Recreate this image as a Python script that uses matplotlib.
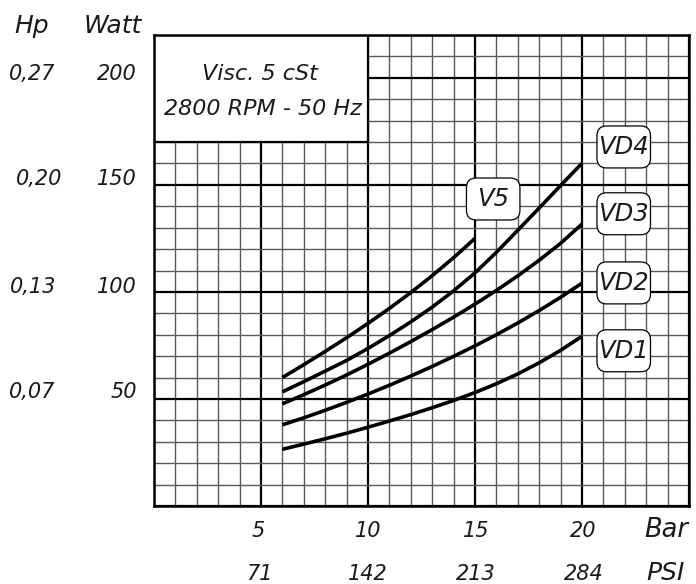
import matplotlib
matplotlib.use("Agg")
import matplotlib.pyplot as plt
from matplotlib.patches import Rectangle, FancyBboxPatch
import numpy as np

# ---- data ----
x_vd = [6, 7, 8, 9, 10, 11, 12, 13, 14, 15, 16, 17, 18, 19, 20]
vd1 = [26.5, 28.9, 31.4, 34.0, 36.8, 39.7, 42.7, 45.9, 49.3, 53.0, 57.1, 61.7, 66.9, 72.7, 79.3]
vd2 = [37.9, 41.2, 44.7, 48.4, 52.3, 56.4, 60.7, 65.2, 69.9, 74.8, 80.0, 85.5, 91.3, 97.5, 104.1]
vd3 = [47.7, 52.0, 56.5, 61.2, 66.2, 71.4, 76.8, 82.4, 88.2, 94.3, 100.7, 107.5, 114.8, 122.7, 131.7]
vd4 = [53.3, 58.1, 63.0, 68.0, 73.6, 79.6, 86.0, 92.9, 100.5, 108.9, 118.5, 128.8, 139.2, 149.7, 160.1]
x_v5 = [6, 7, 8, 9, 10, 11, 12, 13, 14, 15]
v5 = [60.0, 66.0, 72.2, 78.6, 85.3, 92.3, 99.7, 107.6, 116.0, 125.0]

series_names = ["VD1", "VD2", "VD3", "VD4", "V5"]
label_x = [21.95, 21.95, 21.95, 21.95, 15.85]
label_y = [72.5, 104.2, 136.5, 167.7, 143.4]

bar_ticks = [5, 10, 15, 20]
bar_labels = ["5", "10", "15", "20"]
psi_labels = ["71", "142", "213", "284"]
watt_ticks = [50, 100, 150, 200]
watt_labels = ["50", "100", "150", "200"]
hp_labels = ["0,07", "0,13", "0,20", "0,27"]

title_lines = ["Visc. 5 cSt", "2800 RPM - 50 Hz"]

TXT = "#1a1a1a"

# ---- figure ----
fig = plt.figure(figsize=(6.96, 5.84), dpi=100)
ax = fig.add_axes([154 / 696, 78 / 584, 535 / 696, 471 / 584])
ax.set_xlim(0, 25)
ax.set_ylim(0, 220)

ax.set_xticks(np.arange(0, 26, 5))
ax.set_xticks(np.arange(0, 26, 1), minor=True)
ax.set_yticks(np.arange(0, 221, 50))
ax.set_yticks(np.arange(0, 221, 10), minor=True)
ax.tick_params(which="both", length=0, labelbottom=False, labelleft=False)
ax.grid(which="minor", color="#5a5a5a", linewidth=1.0)
ax.grid(which="major", color="black", linewidth=1.6)
ax.set_axisbelow(True)
for s in ax.spines.values():
    s.set_linewidth(1.8)
    s.set_color("black")
    s.set_zorder(6)

# info box
ax.add_patch(Rectangle((0, 170), 10, 50, facecolor="white", edgecolor="black",
                       linewidth=1.6, zorder=2))
ax.text(4.95, 199.1, title_lines[0], ha="center", va="baseline", fontsize=16,
        style="italic", color=TXT, zorder=3)
ax.text(5.1, 182.7, title_lines[1], ha="center", va="baseline", fontsize=16,
        style="italic", color=TXT, zorder=3)

# curves
for xs, ys in [(x_vd, vd1), (x_vd, vd2), (x_vd, vd3), (x_vd, vd4), (x_v5, v5)]:
    ax.plot(xs, ys, color="black", linewidth=2.6, solid_capstyle="butt",
            solid_joinstyle="round", zorder=3)

# curve labels
bw, bh = 2.5, 19.6
for name, lx, ly in zip(series_names, label_x, label_y):
    ax.add_patch(FancyBboxPatch((lx - bw / 2, ly - bh / 2), bw, bh,
                                boxstyle="round,pad=0,rounding_size=0.45",
                                mutation_aspect=10, facecolor="white",
                                edgecolor="black", linewidth=0.9, zorder=4))
    ax.text(lx, ly, name, ha="center", va="center", fontsize=17.5,
            style="italic", color=TXT, zorder=5)

# bottom labels
bar_x = [4.85, 10.01, 15.05, 20.05]
for xv, lab, xp in zip(bar_ticks, bar_labels, bar_x):
    ax.text(xp, -14.35, lab, ha="center", va="baseline", fontsize=15,
            style="italic", color=TXT, clip_on=False)
psi_x = [4.9, 10.01, 15.05, 20.1]
for lab, xp in zip(psi_labels, psi_x):
    ax.text(xp, -34.6, lab, ha="center", va="baseline", fontsize=15,
            style="italic", color=TXT, clip_on=False)
ax.text(23.95, -14.35, "Bar", ha="center", va="baseline", fontsize=18.5,
        style="italic", color=TXT, clip_on=False)
ax.text(23.9, -34.6, "PSI", ha="center", va="baseline", fontsize=18,
        style="italic", color=TXT, clip_on=False)

# left labels
watt_base = [50.5, 99.4, 150.0, 199.1]
hp_x = [-5.71, -5.64, -5.35, -5.68]
for lab, hlab, yb, hx in zip(watt_labels, hp_labels, watt_base, hp_x):
    ax.text(-0.81, yb, lab, ha="right", va="baseline", fontsize=15,
            style="italic", color=TXT, clip_on=False)
    ax.text(hx, yb, hlab, ha="center", va="baseline", fontsize=15,
            style="italic", color=TXT, clip_on=False)
ax.text(-5.72, 221.0, "Hp", ha="center", va="baseline", fontsize=18,
        style="italic", color=TXT, clip_on=False)
ax.text(-1.94, 221.0, "Watt", ha="center", va="baseline", fontsize=18,
        style="italic", color=TXT, clip_on=False)

fig.savefig("out.png", dpi=100, facecolor="white")
